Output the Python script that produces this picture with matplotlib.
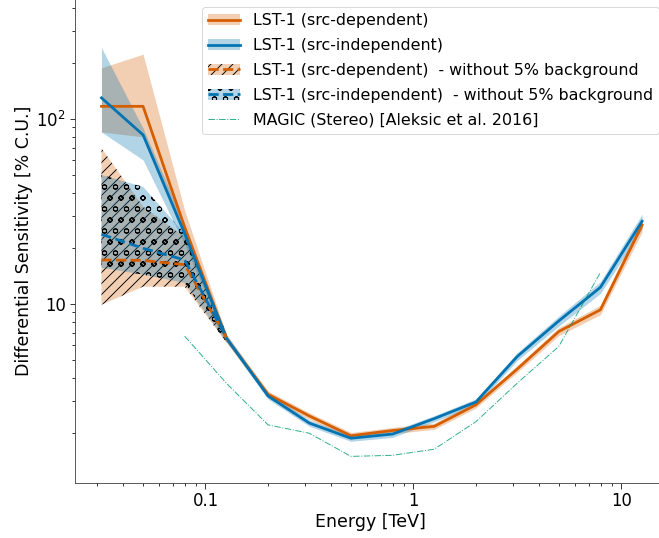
import numpy as np
import matplotlib
matplotlib.use('Agg')
import matplotlib.pyplot as plt

# energy bin centres [TeV]
energy = [0.0316, 0.0501, 0.0794, 0.126, 0.200, 0.316, 0.501, 0.794,
          1.26, 2.00, 3.16, 5.01, 7.94, 12.6]

# LST-1 src-dependent
sens_dep = [117, 117, 26, 6.5, 3.25, 2.48, 1.94, 2.07, 2.18, 2.85, 4.45, 7.1, 9.3, 26.7]
sens_dep_lo = [85, 80, 23.5, 6.2, 3.12, 2.38, 1.87, 1.99, 2.1, 2.74, 4.27, 6.75, 8.75, 24.5]
sens_dep_hi = [189, 224, 32, 6.85, 3.38, 2.58, 2.02, 2.15, 2.27, 2.96, 4.63, 7.45, 9.85, 29.0]

# LST-1 src-independent
sens_indep = [130, 82, 24, 6.55, 3.18, 2.27, 1.88, 1.98, 2.4, 2.95, 5.2, 8.1, 12.3, 28.0]
sens_indep_lo = [85, 60, 21, 6.25, 3.06, 2.18, 1.81, 1.90, 2.31, 2.83, 4.95, 7.6, 11.4, 25.5]
sens_indep_hi = [243, 89, 27, 6.85, 3.30, 2.36, 1.95, 2.06, 2.49, 3.07, 5.45, 8.6, 13.2, 30.6]

# without 5% background systematics (only lowest bins)
energy_nb = [0.0316, 0.0501, 0.0794, 0.126]
sens_dep_nb = [17.3, 17.2, 16.3, 6.6]
sens_dep_nb_lo = [9.9, 12.4, 12.4, 6.2]
sens_dep_nb_hi = [69.5, 33.6, 23, 7.0]
sens_indep_nb = [23.8, 20.0, 17.3, 6.6]
sens_indep_nb_lo = [15.7, 14.4, 13.0, 6.2]
sens_indep_nb_hi = [49.8, 43, 24, 7.0]

# MAGIC stereo, Aleksic et al. 2016
energy_magic = [0.0794, 0.126, 0.200, 0.316, 0.501, 0.794, 1.26, 2.00, 3.16, 5.01, 7.94]
sens_magic = [6.7, 3.73, 2.22, 2.0, 1.50, 1.52, 1.64, 2.31, 3.73, 5.9, 14.8]

c_dep = '#d55e00'
c_indep = '#0173b2'
c_magic = '#029e73'

dpi = 66
fig = plt.figure(figsize=(659 / dpi, 538 / dpi), dpi=dpi)
ax = fig.add_axes([74.5 / 659, 55 / 538, (667 - 74.5) / 659, 484 / 538])

# bands
b1 = ax.fill_between(energy, sens_dep_lo, sens_dep_hi, color=c_dep, alpha=0.3, lw=0)
b2 = ax.fill_between(energy, sens_indep_lo, sens_indep_hi, color=c_indep, alpha=0.3, lw=0)
b3 = ax.fill_between(energy_nb, sens_dep_nb_lo, sens_dep_nb_hi,
                     facecolor=(*matplotlib.colors.to_rgb(c_dep), 0.3),
                     edgecolor='k', hatch='//', lw=0)
b4 = ax.fill_between(energy_nb, sens_indep_nb_lo, sens_indep_nb_hi,
                     facecolor=(*matplotlib.colors.to_rgb(c_indep), 0.3),
                     edgecolor='k', hatch='o', lw=0)

l1, = ax.plot(energy, sens_dep, color=c_dep, lw=3)
l2, = ax.plot(energy, sens_indep, color=c_indep, lw=3)
l3, = ax.plot(energy_nb, sens_dep_nb, color=c_dep, lw=3, ls='--')
l4, = ax.plot(energy_nb, sens_indep_nb, color=c_indep, lw=3, ls='--')
l5, = ax.plot(energy_magic, sens_magic, color=c_magic, lw=1.1, ls='-.', alpha=0.8)

ax.set_xscale('log')
ax.set_yscale('log')
ax.set_xlim(0.02344, 16.6)
ax.set_ylim(1.077, 445)

ax.set_xticks([0.1, 1, 10])
ax.set_xticklabels(['0.1', '1', '10'])
ax.set_yticks([10, 100])
ax.set_yticklabels(['10', '$10^2$'])
ax.tick_params(which='major', length=6, width=1, labelsize=18, color='.15')
ax.tick_params(which='minor', length=3.5, width=1, color='.15')

for s in ['top', 'right']:
    ax.spines[s].set_visible(False)
for s in ['left', 'bottom']:
    ax.spines[s].set_color('.3')
    ax.spines[s].set_linewidth(1)

ax.set_xlabel('Energy [TeV]', fontsize=19)
ax.set_ylabel('Differential Sensitivity [% C.U.]', fontsize=19)

ax.legend([(b1, l1), (b2, l2), (b3, l3), (b4, l4), l5],
          ['LST-1 (src-dependent)', 'LST-1 (src-independent)',
           'LST-1 (src-dependent)  - without 5% background',
           'LST-1 (src-independent)  - without 5% background',
           'MAGIC (Stereo) [Aleksic et al. 2016]'],
          loc='upper right', fontsize=17.3, labelspacing=0.62)

fig.savefig('out.png', dpi=dpi)
